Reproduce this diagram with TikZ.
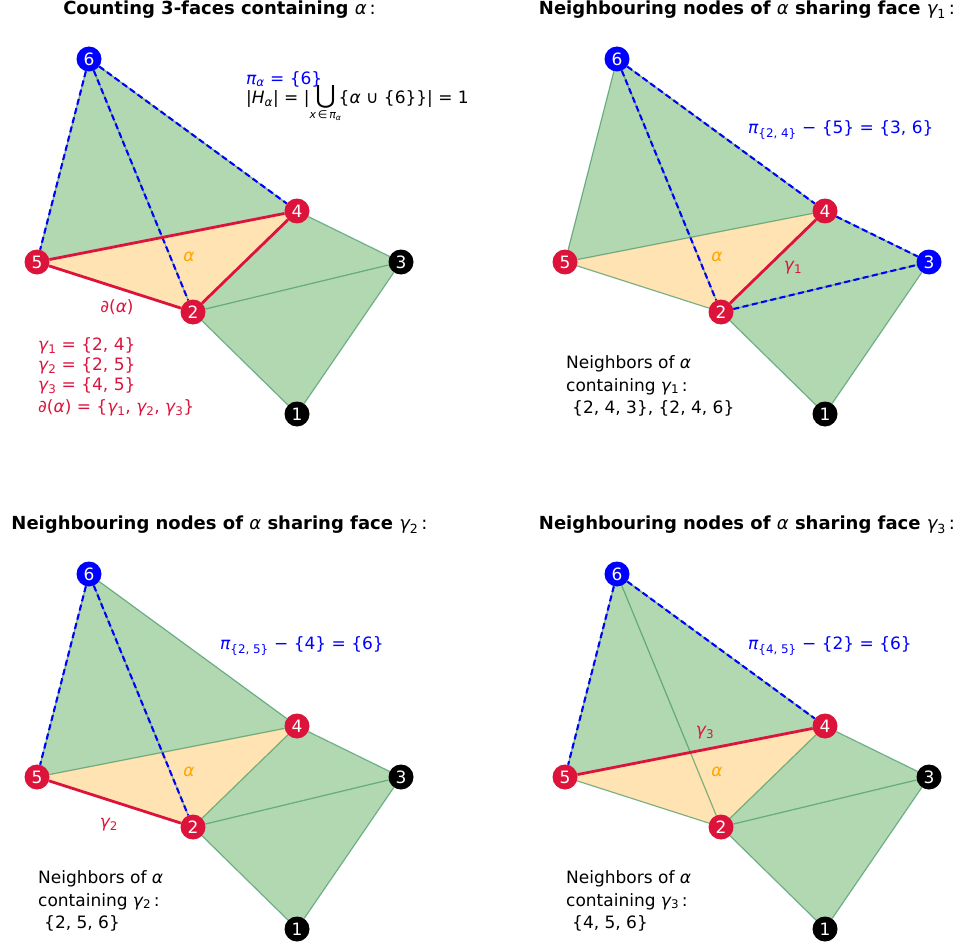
\documentclass[tikz,border=0pt]{standalone}
\usepackage{amsmath}
\usepackage{fontspec}
\setmainfont{DejaVu Sans}
\usetikzlibrary{backgrounds}

\definecolor{facegreen}{RGB}{178,216,178}
\definecolor{faceorange}{RGB}{255,227,178}
\definecolor{edgegreen}{RGB}{46,139,87}
\definecolor{crimson}{RGB}{220,20,60}
\definecolor{alorange}{RGB}{255,165,0}

\newcommand{\al}{{\mdseries\itshape α}}
\newcommand{\gm}[1]{{\mdseries{\itshape γ}\textsubscript{#1}}}

\begin{document}
\begin{tikzpicture}[
  x=1pt, y=-1pt,
  font=\fontsize{17}{20}\selectfont,
  vtx/.style={circle, inner sep=0pt, minimum size=25pt, text=white,
              font=\fontsize{17}{17}\selectfont},
  gface/.style={fill=facegreen},
  aface/.style={fill=faceorange},
  cedge/.style={draw=edgegreen, draw opacity=0.6, line width=1.2pt},
  bnd/.style={draw=crimson, line width=2.8pt},
  nbr/.style={draw=blue, line width=2.1pt, dash pattern=on 6pt off 3.5pt},
  ttl/.style={inner sep=0pt, font=\fontsize{18}{21}\selectfont\bfseries},
  lbl/.style={inner sep=0pt, anchor=west, align=left},
]
\useasboundingbox (0,0) rectangle (962,947);

% the same complex in every panel
\foreach \p/\dx/\dy/\cth in {a/0/0/black, b/528/0/blue, c/0/515/black, d/528/515/black}{
  \begin{scope}[shift={(\dx,\dy)}]
    \node[vtx, fill=black]   (\p1) at (297,414) {1};
    \node[vtx, fill=crimson] (\p2) at (193,312) {2};
    \node[vtx, fill=\cth]    (\p3) at (401,262) {3};
    \node[vtx, fill=crimson] (\p4) at (297,211) {4};
    \node[vtx, fill=crimson] (\p5) at (37,262)  {5};
    \node[vtx, fill=blue]    (\p6) at (89,59)   {6};
    \node[inner sep=0pt, text=alorange] (\p al) at (189,257) {\al};
  \end{scope}
  \begin{scope}[on background layer]
    \fill[gface] (\p1.center) -- (\p2.center) -- (\p3.center) -- cycle;
    \fill[gface] (\p2.center) -- (\p3.center) -- (\p4.center) -- cycle;
    \fill[gface] (\p2.center) -- (\p4.center) -- (\p6.center) -- cycle;
    \fill[gface] (\p2.center) -- (\p5.center) -- (\p6.center) -- cycle;
    \fill[gface] (\p4.center) -- (\p5.center) -- (\p6.center) -- cycle;
    \fill[aface] (\p2.center) -- (\p4.center) -- (\p5.center) -- cycle;
    \draw[cedge] (\p1) -- (\p2) -- (\p3) -- (\p1);
    \draw[cedge] (\p3) -- (\p4) -- (\p2) -- (\p5) -- (\p4) -- (\p6) -- (\p5);
    \draw[cedge] (\p2) -- (\p6);
  \end{scope}
}

% panel 1: 3-faces containing alpha
\node[ttl] (t1) at (219.5,10) {Counting 3-faces containing \al\,{\mdseries:}};
\node[lbl, text=blue] (pia) at (246,79) {{\itshape π}\textsubscript{\itshape α} = \{6\}};
\node[lbl] (hsize) at (246,104) {|{\itshape H}\textsubscript{\itshape α}| = |\(\underset{\text{\fontsize{11}{11}\selectfont\itshape x\,\upshape∈\,\itshape π\textsubscript{α}}}{\text{\fontsize{25}{25}\selectfont ⋃}}\)\!\{\al\ ∪ \{6\}\}| = 1};
\node[inner sep=0pt, text=crimson] (dal) at (117,307) {{\itshape ∂}(\al)};
\node[lbl, text=crimson, font=\fontsize{17}{20}\selectfont] (gams) at (38,377)
  {\gm{1} = \{2, 4\}\\ \gm{2} = \{2, 5\}\\ \gm{3} = \{4, 5\}\\[2pt] {\itshape ∂}(\al) = \{\gm{1}, \gm{2}, \gm{3}\}};
\begin{scope}[on background layer]
  \draw[nbr] (a6) -- (a5);
  \draw[nbr] (a6) -- (a2);
  \draw[nbr] (a6) -- (a4);
  \draw[bnd] (a2) -- (a4) -- (a5) -- (a2);
\end{scope}

% panel 2: face gamma 1
\node[ttl] (t2) at (747,10) {Neighbouring nodes of \al\ sharing face \gm{1}\,{\mdseries:}};
\node[lbl, text=blue] (pib) at (748,130) {{\itshape π}\textsubscript{\{2, 4\}} − \{5\} = \{3, 6\}};
\node[inner sep=0pt, text=crimson] (g1) at (793,268) {\gm{1}};
\node[lbl, font=\fontsize{17}{22.5}\selectfont] (nb) at (566,386)
  {Neighbors of \al\\containing \gm{1}\,:\\\hspace{6pt}\{2, 4, 3\}, \{2, 4, 6\}};
\begin{scope}[on background layer]
  \draw[nbr] (b6) -- (b2);
  \draw[nbr] (b6) -- (b4);
  \draw[nbr] (b4) -- (b3);
  \draw[nbr] (b2) -- (b3);
  \draw[bnd] (b2) -- (b4);
\end{scope}

% panel 3: face gamma 2
\node[ttl] (t3) at (219.5,525) {Neighbouring nodes of \al\ sharing face \gm{2}\,{\mdseries:}};
\node[lbl, text=blue] (pic) at (220,646) {{\itshape π}\textsubscript{\{2, 5\}} − \{4\} = \{6\}};
\node[inner sep=0pt, text=crimson] (g2) at (109,825) {\gm{2}};
\node[lbl, font=\fontsize{17}{22.5}\selectfont] (nc) at (38,901)
  {Neighbors of \al\\containing \gm{2}\,:\\\hspace{6pt}\{2, 5, 6\}};
\begin{scope}[on background layer]
  \draw[nbr] (c6) -- (c5);
  \draw[nbr] (c6) -- (c2);
  \draw[bnd] (c2) -- (c5);
\end{scope}

% panel 4: face gamma 3
\node[ttl] (t4) at (747,525) {Neighbouring nodes of \al\ sharing face \gm{3}\,{\mdseries:}};
\node[lbl, text=blue] (pid) at (748,646) {{\itshape π}\textsubscript{\{4, 5\}} − \{2\} = \{6\}};
\node[inner sep=0pt, text=crimson] (g3) at (705,733) {\gm{3}};
\node[lbl, font=\fontsize{17}{22.5}\selectfont] (nd) at (566,901)
  {Neighbors of \al\\containing \gm{3}\,:\\\hspace{6pt}\{4, 5, 6\}};
\begin{scope}[on background layer]
  \draw[nbr] (d6) -- (d5);
  \draw[nbr] (d6) -- (d4);
  \draw[bnd] (d4) -- (d5);
\end{scope}

\end{tikzpicture}
\end{document}
